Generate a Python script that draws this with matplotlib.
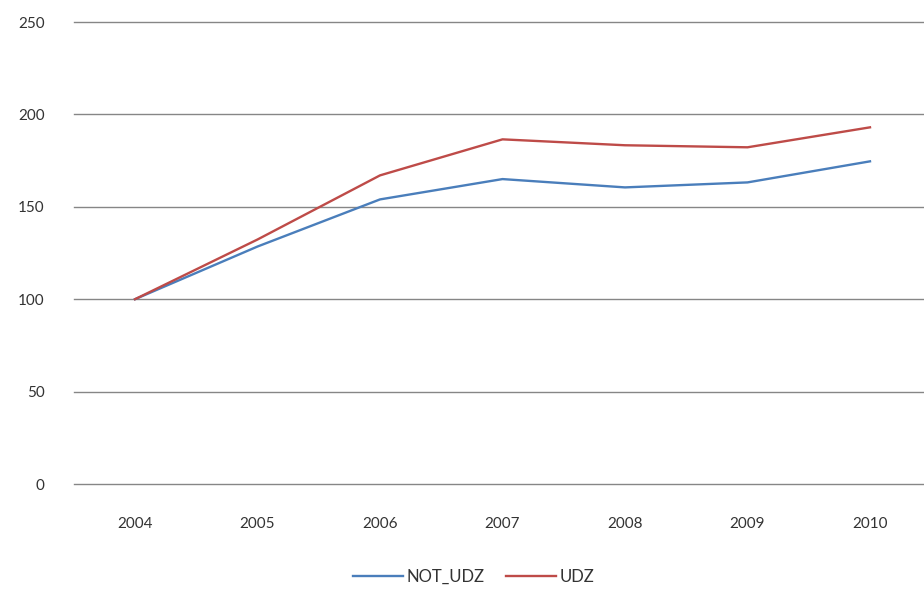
import matplotlib
matplotlib.use("Agg")
import matplotlib.pyplot as plt

years = ["2004", "2005", "2006", "2007", "2008", "2009", "2010"]
not_udz = [100, 128.5, 154, 165, 160.5, 163.2, 174.6]
udz = [100, 132.3, 167, 186.5, 183.3, 182.2, 193]
yticks = [0, 50, 100, 150, 200, 250]

plt.rcParams['font.family'] = ['Lato', 'DejaVu Sans']

fig = plt.figure(figsize=(9.24, 5.92), dpi=100)
W, H = 924, 592
left = 73.75 / W
width = (931.25 - 73.75) / W
bottom = (H - 484) / H
height = (484 - 22) / H
ax = fig.add_axes([left, bottom, width, height])

x = list(range(len(years)))
l1, = ax.plot(x, not_udz, color="#4a7ebb", lw=1.7, label="NOT_UDZ")
l2, = ax.plot(x, udz, color="#be4b48", lw=1.7, label="UDZ")

ax.set_xlim(-0.5, len(years) - 0.5)
ax.set_ylim(0, 250)
ax.set_yticks(yticks)
ax.set_yticklabels([str(v) for v in yticks])
ax.set_xticks(x)
ax.set_xticklabels(years)
ax.yaxis.grid(True, color="#868686", lw=1.0)
for gl in ax.get_ygridlines():
    gl.set_clip_on(False)
ax.set_axisbelow(True)
for s in ax.spines.values():
    s.set_visible(False)
ax.tick_params(axis='both', length=0, labelsize=11, colors="#333333")
ax.tick_params(axis='y', pad=21)
ax.tick_params(axis='x', pad=24)

fig.legend(handles=[l1, l2], loc="center", bbox_to_anchor=(474 / W, 1 - 577 / H),
           ncol=2, frameon=False, fontsize=12, handlelength=3.0, columnspacing=1.3,
           handletextpad=0.2, labelcolor="#333333")

fig.savefig("out.png", dpi=100)
